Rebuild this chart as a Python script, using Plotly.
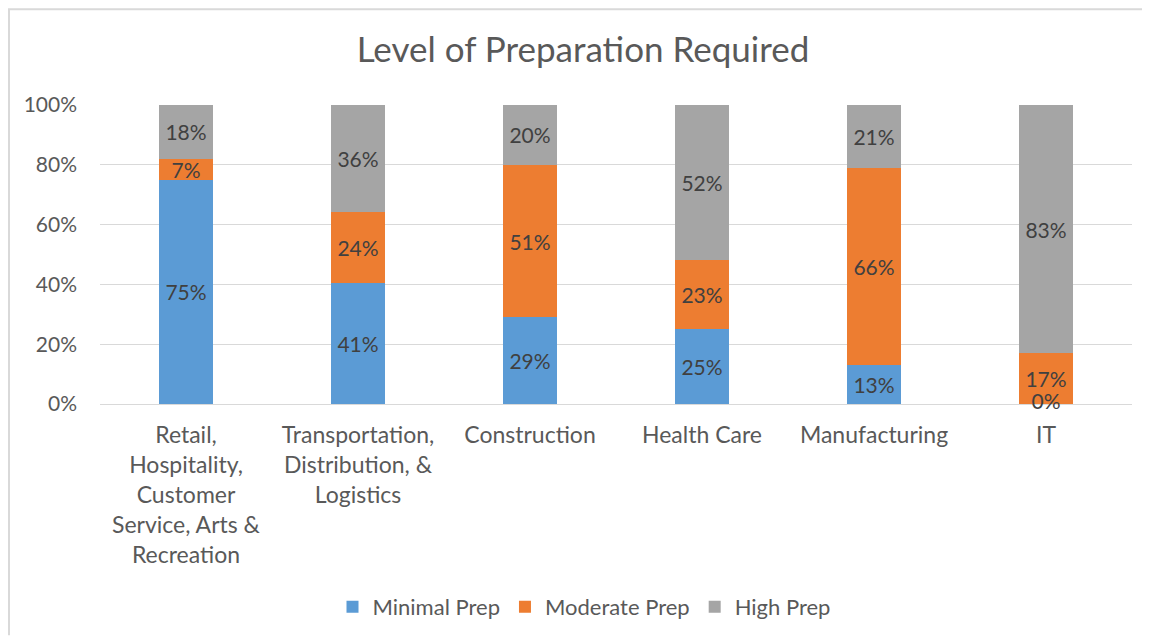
import plotly.graph_objects as go

categories = [
    "Retail,<br>Hospitality,<br>Customer<br>Service, Arts &<br>Recreation",
    "Transportation,<br>Distribution, &<br>Logistics",
    "Construction",
    "Health Care",
    "Manufacturing",
    "IT",
]
minimal_prep = [75, 41, 29, 25, 13, 0]
moderate_prep = [7, 24, 51, 23, 66, 17]
high_prep = [18, 36, 20, 52, 21, 83]

series = [
    ("Minimal Prep", minimal_prep, "#5B9BD5"),
    ("Moderate Prep", moderate_prep, "#ED7D31"),
    ("High Prep", high_prep, "#A5A5A5"),
]
y_ticks = [0, 0.2, 0.4, 0.6, 0.8, 1.0]

FONT = "Lato"
TEXT = "#595959"
LABEL = "#404040"

# page has an 8px body margin
W, H = 1142, 631
L, R, T, B = 92, 18, 97, 234
PW, PH = W - L - R, H - T - B

fig = go.Figure()
for name, vals, color in series:
    fig.add_trace(go.Bar(
        name=name, x=categories, y=vals,
        marker=dict(color=color, line=dict(width=0)),
        text=[f"{v}%" for v in vals],
        textposition="inside", insidetextanchor="middle",
        textangle=0,
        textfont=dict(family=FONT, size=21, color=LABEL),
        constraintext="none",
        hoverinfo="skip",
    ))

# labels for zero-height segments (drawn at the baseline)
zero_x = [c for c, v in zip(categories, minimal_prep) if v == 0]
zero_t = [f"{v}%" for v in minimal_prep if v == 0]
fig.add_trace(go.Scatter(
    x=zero_x, y=[0] * len(zero_x), mode="text", text=zero_t,
    textposition="middle center",
    textfont=dict(family=FONT, size=21, color=LABEL),
    showlegend=False, cliponaxis=False, hoverinfo="skip",
))

# chart-area border (left and top edges only, kept inside the canvas)
bx = (1 - L) / PW
by = 1 + (T - 1) / PH
bb = -(B - 2) / PH
br = 1 + (R - 2) / PW
border_path = f"M {bx},{bb} L {bx},{by} L {br},{by}"

fig.update_layout(
    width=W, height=H,
    barmode="stack", barnorm="fraction",
    bargap=0.686,
    paper_bgcolor="white", plot_bgcolor="white",
    margin=dict(l=L, r=R, t=T, b=B),
    title=dict(text="Level of Preparation Required", x=575 / W, xref="container",
               xanchor="center", y=1 - 42 / H, yanchor="middle",
               font=dict(family=FONT, size=35, color=TEXT)),
    font=dict(family=FONT, color=TEXT),
    legend=dict(orientation="h", x=(576 - L) / PW, xanchor="center", xref="paper",
                y=(PH - (599 - T)) / PH, yanchor="middle",
                font=dict(family=FONT, size=22, color=TEXT),
                itemwidth=30, traceorder="normal"),
    xaxis=dict(showgrid=False, showline=False, ticks="", ticklabelstandoff=15,
               tickfont=dict(family=FONT, size=23, color=TEXT)),
    yaxis=dict(range=[0, 1], tickvals=y_ticks, tickformat=".0%",
               showgrid=True, gridcolor="#D9D9D9", gridwidth=1,
               zeroline=True, zerolinecolor="#D9D9D9", zerolinewidth=1,
               showline=False, ticks="", ticklabelstandoff=22,
               tickfont=dict(family=FONT, size=21, color=TEXT)),
    shapes=[
        dict(type="path", xref="paper", yref="paper", path=border_path,
             line=dict(color="#D9D9D9", width=2),
             fillcolor="rgba(0,0,0,0)", layer="below"),
    ],
)

fig.write_html("out.html")
